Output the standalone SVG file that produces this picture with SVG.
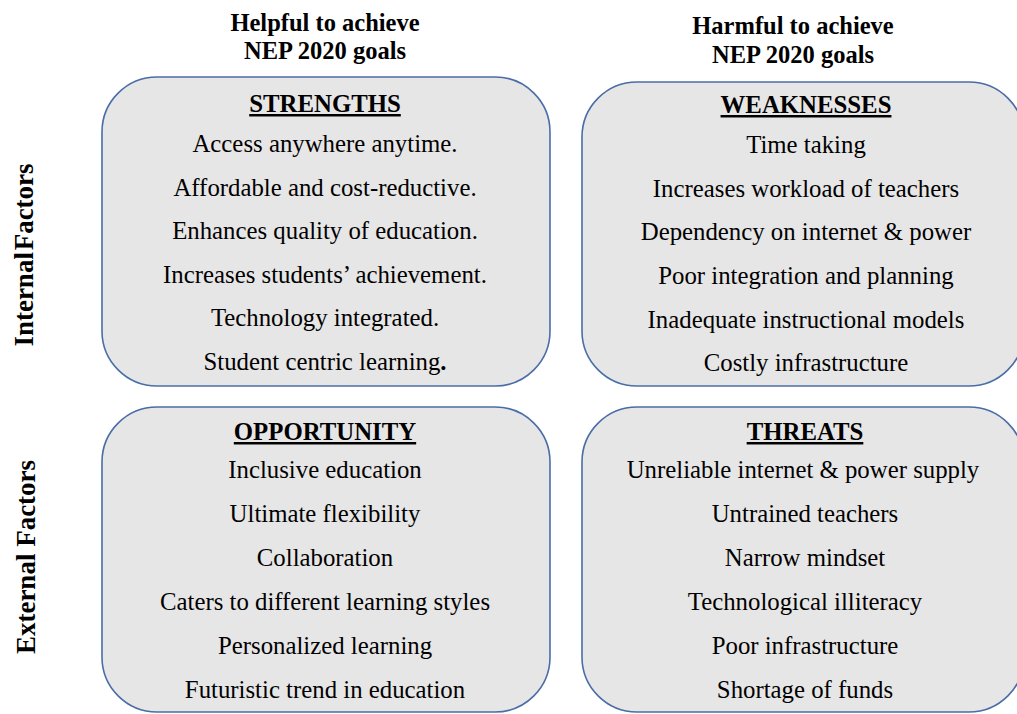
<svg xmlns="http://www.w3.org/2000/svg" width="1017" height="714" viewBox="0 0 1017 714">
  <style>
    .box { fill: #e7e6e6; stroke: #4a6da7; stroke-width: 1.6; }
    text { font-family: "Liberation Serif", "Times New Roman", serif; fill: #000; text-anchor: middle; }
    .item { font-size: 24.8px; }
    .title { font-size: 24.8px; font-weight: bold; text-decoration: underline; }
    .head { font-size: 24.5px; font-weight: bold; }
    .side { font-size: 27px; font-weight: bold; }
  </style>

  <!-- column headings -->
  <g id="col-helpful">
    <text class="head" x="325" y="31">Helpful to achieve</text>
    <text class="head" x="325" y="59">NEP 2020 goals</text>
  </g>
  <g id="col-harmful">
    <text class="head" x="793" y="34">Harmful to achieve</text>
    <text class="head" x="793" y="63">NEP 2020 goals</text>
  </g>

  <!-- row headings -->
  <g id="row-internal">
    <text class="side" transform="translate(33,255) rotate(-90)" word-spacing="-5">Internal Factors</text>
  </g>
  <g id="row-external">
    <text class="side" transform="translate(35,557) rotate(-90)">External Factors</text>
  </g>

  <!-- quadrants -->
  <g id="strengths">
    <rect class="box" x="102" y="77" width="448" height="309" rx="55" ry="55"/>
    <text class="title" x="325" y="112">STRENGTHS</text>
    <text class="item" x="325" y="152">Access anywhere anytime.</text>
    <text class="item" x="325" y="195.5">Affordable and cost-reductive.</text>
    <text class="item" x="325" y="239">Enhances quality of education.</text>
    <text class="item" x="325" y="283">Increases students’ achievement.</text>
    <text class="item" x="325" y="326">Technology integrated.</text>
    <text class="item" x="325" y="370">Student centric learning<tspan font-weight="bold">.</tspan></text>
  </g>

  <g id="weaknesses">
    <rect class="box" x="582" y="82" width="442" height="304" rx="55" ry="55"/>
    <text class="title" x="806" y="113">WEAKNESSES</text>
    <text class="item" x="806" y="153">Time taking</text>
    <text class="item" x="806" y="196.5">Increases workload of teachers</text>
    <text class="item" x="806" y="240">Dependency on internet &amp; power</text>
    <text class="item" x="806" y="284">Poor integration and planning</text>
    <text class="item" x="806" y="328">Inadequate instructional models</text>
    <text class="item" x="806" y="371">Costly infrastructure</text>
  </g>

  <g id="opportunity">
    <rect class="box" x="102" y="407" width="448" height="305" rx="55" ry="55"/>
    <text class="title" x="325" y="440">OPPORTUNITY</text>
    <text class="item" x="325" y="478">Inclusive education</text>
    <text class="item" x="325" y="522">Ultimate flexibility</text>
    <text class="item" x="325" y="566">Collaboration</text>
    <text class="item" x="325" y="610">Caters to different learning styles</text>
    <text class="item" x="325" y="654">Personalized learning</text>
    <text class="item" x="325" y="698">Futuristic trend in education</text>
  </g>

  <g id="threats">
    <rect class="box" x="582" y="407" width="442" height="305" rx="55" ry="55"/>
    <text class="title" x="805" y="440">THREATS</text>
    <text class="item" x="803" y="478">Unreliable internet &amp; power supply</text>
    <text class="item" x="805" y="522">Untrained teachers</text>
    <text class="item" x="805" y="566">Narrow mindset</text>
    <text class="item" x="805" y="610">Technological illiteracy</text>
    <text class="item" x="805" y="654">Poor infrastructure</text>
    <text class="item" x="805" y="698">Shortage of funds</text>
  </g>

  <!-- no connectors in this matrix -->
  <g id="connectors"/>
</svg>
